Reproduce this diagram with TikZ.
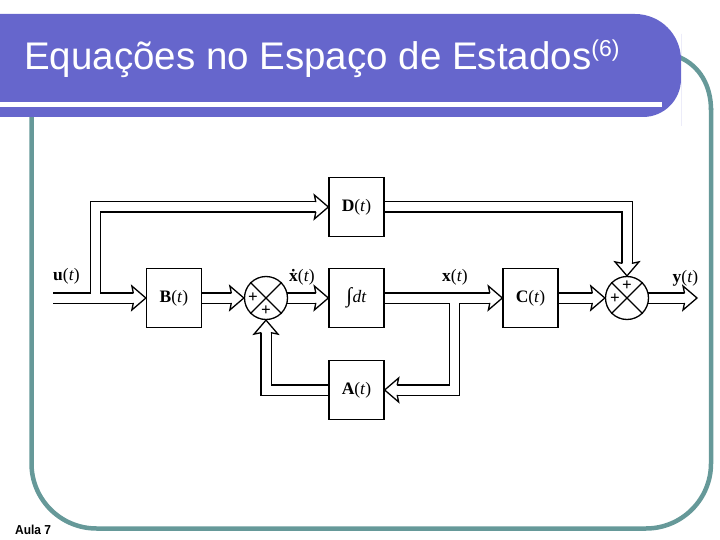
\documentclass[tikz,border=0pt]{standalone}
\usepackage{fontspec}
\setmainfont{Liberation Sans}
\newfontfamily\tms{Liberation Serif}
\usetikzlibrary{calc,backgrounds}
\definecolor{barpurple}{RGB}{102,102,204}
\definecolor{frameteal}{RGB}{102,153,153}
\newcommand\arrhead[2]{%
  \begin{scope}[shift={#1}, rotate=#2]
    \filldraw[fill=white, draw=black, line width=1.3, line join=miter]
      (-12.5,4.9) -- (-14,12) -- (0,0) -- (-14,-12) -- (-12.5,-4.9);
  \end{scope}}
\tikzset{
  blk/.style={draw, fill=white, line width=1.3, minimum width=55, minimum height=59,
    inner sep=0, font=\tms\fontsize{17.5}{17.5}\selectfont},
  lbl/.style={font=\tms\fontsize{17.5}{17.5}\selectfont, inner sep=0},
  sumc/.style={circle, draw, fill=white, line width=1.3, minimum size=43, inner sep=0},
  plus/.style={font=\tms\bfseries\fontsize{17}{17}\selectfont, inner sep=0},
  pipeout/.style={line width=11.6, line join=miter, draw=black},
  pipein/.style={line width=9, line join=miter, draw=white},
  teal/.style={draw=frameteal, line width=4.5},
}
\begin{document}
\begin{tikzpicture}[x=1pt,y=-1pt]
\useasboundingbox (0,0) rectangle (720,540);
% frame
\draw[teal, rounded corners=65] (31.5,117) -- (31.5,528.5) -- (711,528.5) -- (711,108);
\draw[teal] (711,110) .. controls (711,86) and (700,66) .. (679,57);
% title bar
\fill[barpurple] (-10,14) [rounded corners=46] -- (681,14) -- (681,80) [rounded corners=38] -- (681,117) [sharp corners] -- (-10,117) -- cycle;
\fill[white] (-10,102.5) rectangle (662,107.3);
\node[anchor=base west, text=white, inner sep=0, font=\fontsize{38.5}{38.5}\selectfont] (title) at (24,70)
  {Equações no Espaço de Estados\raisebox{13pt}{\fontsize{23}{23}\selectfont(6)}};
\node[anchor=base west, inner sep=0, font=\bfseries\fontsize{13}{13}\selectfont] (aula) at (15,534.5) {\scalebox{0.92}[1]{Aula 7}};
% blocks
\node[blk] (D) at (356.5,207) {{\bfseries D}(\textit{t})};
\node[blk] (B) at (174,298) {{\bfseries B}(\textit{t})};
\node[blk] (I) at (356.5,298) {\textit{{\fontsize{21}{21}\selectfont ∫}\kern0.5pt dt}};
\node[blk] (A) at (356.5,390) {{\bfseries A}(\textit{t})};
\node[blk] (C) at (530.5,298) {{\bfseries C}(\textit{t})};
\node[sumc] (S1) at (266,298) {};
\node[sumc] (S2) at (627,298) {};
\coordinate (uin) at (53,298);
\coordinate (ubr) at (95.5,298);
\coordinate (xbr) at (454.5,298);
\coordinate (yout) at (697,298);
% pipes
\begin{scope}[on background layer]
\foreach \s in {pipeout,pipein}{
  \draw[\s] (uin) -- ($(B.west)+(-12,0)$);
  \draw[\s] (ubr) -- (ubr |- D.west) -- ($(D.west)+(-12,0)$);
  \draw[\s] (D.east) -- (S2 |- D.east) -- ($(S2.north)+(0,-12)$);
  \draw[\s] (B.east) -- ($(S1.west)+(-12,0)$);
  \draw[\s] (S1.center) -- ($(I.west)+(-12,0)$);
  \draw[\s] (I.east) -- ($(C.west)+(-12,0)$);
  \draw[\s] (xbr) -- (xbr |- A.east) -- ($(A.east)+(12,0)$);
  \draw[\s] (A.west) -- (S1 |- A.west) -- ($(S1.south)+(0,12)$);
  \draw[\s] (C.east) -- ($(S2.west)+(-12,0)$);
  \draw[\s] (S2.center) -- ($(yout)+(-12,0)$);
}
\end{scope}
% arrowheads
\arrhead{(B.west)}{0}
\arrhead{(D.west)}{0}
\arrhead{(S2.north)}{-90}
\arrhead{(S1.west)}{0}
\arrhead{(I.west)}{0}
\arrhead{(C.west)}{0}
\arrhead{(A.east)}{180}
\arrhead{(S1.south)}{90}
\arrhead{(S2.west)}{0}
\arrhead{(yout)}{0}
% summing junction details
\foreach \n in {S1,S2}{
  \draw[line width=1.1] (\n.north west) -- (\n.south east);
  \draw[line width=1.1] (\n.north east) -- (\n.south west);
}
\node[plus] at ($(S1)+(-13,0)$) {+};
\node[plus] at ($(S1)+(0,13)$) {+};
\node[plus] at ($(S2)+(0,-12)$) {+};
\node[plus] at ($(S2)+(-12,1)$) {+};
% labels
\node[lbl] (lu) at (66.5,276) {{\bfseries u}(\textit{t})};
\node[lbl] (lxd) at (302,277) {{\bfseries\.{x}}(\textit{t})};
\node[lbl] (lx) at (455,277) {{\bfseries x}(\textit{t})};
\node[lbl] (ly) at (685.5,278) {{\bfseries y}(\textit{t})};
\end{tikzpicture}
\end{document}
